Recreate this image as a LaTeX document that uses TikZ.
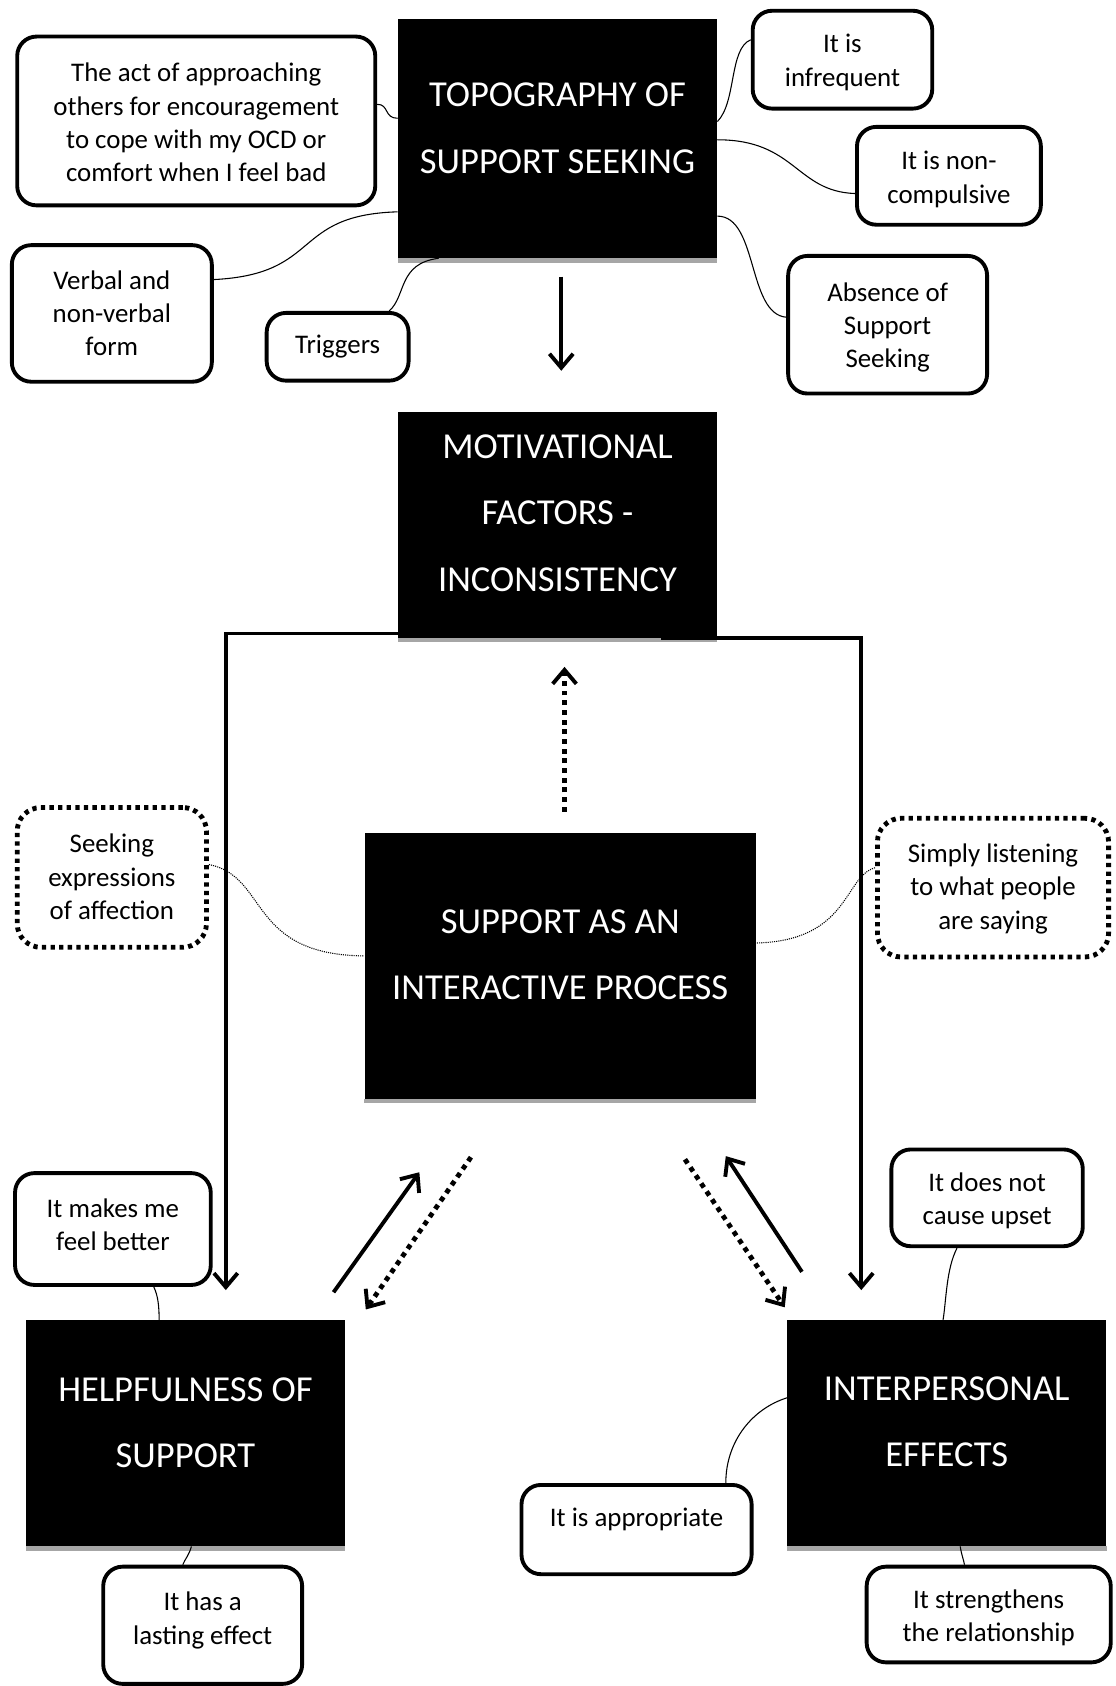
\documentclass[tikz,border=0pt]{standalone}
\usepackage{fontspec}
\setmainfont{Carlito}
\usetikzlibrary{arrows.meta,calc}
\newcommand\boxtxt[4]{\parbox[c][#2pt][t]{#1pt}{\centering\rule{0pt}{#3pt}#4\par}}
\tikzset{
 blk/.style={fill=black, text=white, inner sep=0pt, font=\fontsize{34}{62}\selectfont},
 wbox/.style={draw, line width=3.6pt, rounded corners=18pt, fill=white, inner sep=0pt, font=\fontsize{25}{31}\selectfont},
 dbox/.style={wbox, dash pattern=on 4pt off 4pt, line width=4.5pt, rounded corners=22pt},
 conn/.style={line width=1pt},
 dconn/.style={line width=1pt, dash pattern=on 1pt off 1pt},
 arr/.style={line width=3.6pt, -{Straight Barb[length=13pt,width=22pt,line width=3.6pt]}},
 darr/.style={line width=4.5pt, dash pattern=on 4.5pt off 4.5pt, -{Straight Barb[length=13pt,width=22pt,line width=3.6pt]}},
 bshade/.style={fill=black!35}
}
\begin{document}
\begin{tikzpicture}[x=1pt,y=-1pt]
\fill[white] (0,0) rectangle (1037,1568);
\useasboundingbox (0,0) rectangle (1037,1568);

% black boxes
\node[blk] (topo) at (518.5,129) {\boxtxt{297}{222}{81}{TOPOGRAPHY OF\\SUPPORT SEEKING}};
\node[blk] (motiv) at (518.5,488) {\boxtxt{297}{210}{43}{MOTIVATIONAL\\FACTORS -\\INCONSISTENCY}};
\node[blk] (saip) at (521,898.5) {\boxtxt{364}{247}{93}{SUPPORT AS AN\\INTERACTIVE PROCESS}};
\node[blk] (helpful) at (172.5,1333) {\boxtxt{297}{210}{75}{HELPFULNESS OF\\SUPPORT}};
\node[blk] (interp) at (880.5,1333) {\boxtxt{297}{210}{74}{INTERPERSONAL\\EFFECTS}};
\foreach \b in {topo,motiv,saip,helpful,interp}{
  \fill[bshade] (\b.south west) rectangle ($(\b.south east)+(0,4)$);
}

% white boxes
\node[wbox] (act) at (182.5,112.5) {\boxtxt{333}{157}{42}{The act of approaching\\others for encouragement\\to cope with my OCD or\\comfort when I feel bad}};
\node[wbox] (verbal) at (104,291.5) {\boxtxt{186}{127}{41}{Verbal and\\non-verbal\\form}};
\node[wbox] (triggers) at (314,322.5) {\boxtxt{132}{63}{38}{Triggers}};
\node[wbox] (infreq) at (783.5,55.5) {\boxtxt{167}{91}{39}{It is\\infrequent}};
\node[wbox] (noncomp) at (882.5,163.5) {\boxtxt{171}{91}{40}{It is non-\\compulsive}};
\node[wbox] (absence) at (825.5,302) {\boxtxt{185}{128}{42}{Absence of\\Support\\Seeking}};
\node[dbox] (seeking) at (104,816) {\boxtxt{176}{130}{42}{Seeking\\expressions\\of affection}};
\node[dbox] (listen) at (923.5,825.5) {\boxtxt{215}{129}{41}{Simply listening\\to what people\\are saying}};
\node[wbox] (makes) at (105,1143) {\boxtxt{182}{104}{41}{It makes me\\feel better}};
\node[wbox] (lasting) at (188.5,1511.5) {\boxtxt{185}{109}{41}{It has a\\lasting effect}};
\node[wbox] (upset) at (918,1114) {\boxtxt{178}{90}{39}{It does not\\cause upset}};
\node[wbox] (approp) at (592,1422.5) {\boxtxt{214}{83}{39}{It is appropriate}};
\node[wbox] (strength) at (919.5,1501.5) {\boxtxt{227}{89}{39}{It strengthens\\the relationship}};

% thin connectors
\draw[conn] (act.east |- 0,97) .. controls (362,97) and (357,110) .. (topo.west |- 0,110);
\draw[conn] (verbal.east |- 0,260) .. controls (300,255) and (270,200) .. (topo.west |- 0,197);
\draw[conn] (362,0 |- triggers.north) .. controls (378,275) and (370,245) .. (408,0 |- topo.south);
\draw[conn] (topo.east |- 0,113) .. controls (685,95) and (678,45) .. (infreq.west |- 0,37);
\draw[conn] (topo.east |- 0,130) .. controls (740,130) and (740,178) .. (noncomp.west |- 0,180);
\draw[conn] (topo.east |- 0,201) .. controls (705,201) and (695,292) .. (absence.west |- 0,295);
\draw[conn] (143,0 |- makes.south) .. controls (147,1205) and (148,1215) .. (148,0 |- helpful.north);
\draw[conn] (178,0 |- helpful.south) .. controls (176,1446) and (172,1450) .. (170,0 |- lasting.north);
\draw[conn] (890,0 |- upset.south) .. controls (880,1180) and (880,1210) .. (877,0 |- interp.north);
\draw[conn] (675,0 |- approp.north) .. controls (675,1340) and (700,1310) .. (interp.west |- 0,1300);
\draw[conn] (893,0 |- interp.south) .. controls (894,1445) and (896,1450) .. (897,0 |- strength.north);
\draw[dconn] (seeking.east |- 0,804) .. controls (250,815) and (230,888) .. (saip.west |- 0,889);
\draw[dconn] (listen.west |- 0,807) .. controls (785,815) and (790,875) .. (saip.east |- 0,877);

% arrows
\draw[arr, shorten <=17pt, shorten >=38pt] (522,0 |- topo.south) -- (522,0 |- motiv.north);
\draw[arr] ($(motiv.south)+(-121.5,-4)$) -| ($(helpful.north)+(37.5,-28)$);
\draw[arr] ($(motiv.south)+(96.5,0)$) -| ($(interp.north)+(-79.5,-28)$);
\draw[darr] ($(saip.north)+(4,-20)$) -- ($(motiv.south)+(6.5,27)$);
\draw[arr] ($(helpful.north east)+(-11,-26)$) -- ($(saip.south)+(-131,68)$);
\draw[darr] ($(saip.south)+(-83,54)$) -- ($(helpful.north east)+(19,-10)$);
\draw[darr] ($(saip.south)+(116,56)$) -- ($(interp.north west)+(-2,-12)$);
\draw[arr] ($(interp.north west)+(14,-45)$) -- ($(saip.south)+(154,53)$);
\end{tikzpicture}
\end{document}
